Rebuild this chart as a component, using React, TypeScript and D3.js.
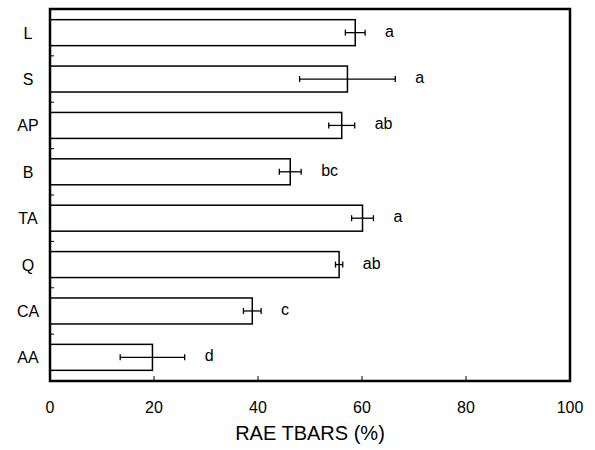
import React from "react";
import * as d3 from "d3";

const categories = ["L", "S", "AP", "B", "TA", "Q", "CA", "AA"];
const means = [58.7, 57.2, 56.1, 46.2, 60.1, 55.6, 38.9, 19.7];
const errors = [1.9, 9.2, 2.5, 2.1, 2.1, 0.7, 1.7, 6.2];
const groupLetters = ["a", "a", "ab", "bc", "a", "ab", "c", "d"];
const xTicks = [0, 20, 40, 60, 80, 100];
const xTitle = "RAE TBARS (%)";

const W = 595;
const H = 450;
const left = 50;
const right = 570;
const top = 9;
const bottom = 381;
const font = "'Liberation Sans', Arial, Helvetica, sans-serif";

export default function App() {
  const x = d3.scaleLinear().domain([0, 100]).range([left, right]);
  const y = d3
    .scaleBand<string>()
    .domain(categories)
    .range([top, bottom])
    .paddingInner(0.44)
    .paddingOuter(0.23);
  const bw = y.bandwidth();
  const step = y.step();

  return (
    <svg
      width={W}
      height={H}
      style={{ position: "absolute", left: 0, top: 0, background: "#fff" }}
      fontFamily={font}
    >
      <rect x={0} y={0} width={W} height={H} fill="#fff" />
      {/* bars */}
      {categories.map((c, i) => {
        const y0 = y(c)!;
        const cy = y0 + bw / 2;
        const lo = x(means[i] - errors[i]);
        const hi = x(means[i] + errors[i]);
        return (
          <g key={c}>
            <rect
              x={x(0)}
              y={y0}
              width={x(means[i]) - x(0)}
              height={bw}
              fill="#fff"
              stroke="#000"
              strokeWidth={1.5}
            />
            <line x1={lo} x2={hi} y1={cy} y2={cy} stroke="#000" strokeWidth={1.3} />
            <line x1={lo} x2={lo} y1={cy - 3} y2={cy + 3} stroke="#000" strokeWidth={1.3} />
            <line x1={hi} x2={hi} y1={cy - 3} y2={cy + 3} stroke="#000" strokeWidth={1.3} />
            <text x={hi + 20} y={cy + 4} fontSize={16} fill="#000">
              {groupLetters[i]}
            </text>
            <text x={28} y={cy + 6} fontSize={16} textAnchor="middle" fill="#000">
              {c}
            </text>
          </g>
        );
      })}
      {/* y minor ticks at band boundaries */}
      {categories.slice(0, -1).map((c, i) => {
        const yy = y(c)! + bw + (step - bw) / 2;
        return <line key={"yt" + i} x1={left} x2={left + 4} y1={yy} y2={yy} stroke="#000" strokeWidth={1} />;
      })}
      {/* x ticks */}
      {xTicks.map((t) => (
        <g key={"xt" + t}>
          <line x1={x(t)} x2={x(t)} y1={bottom} y2={bottom - 5} stroke="#000" strokeWidth={1} />
          <text x={x(t)} y={413} fontSize={16} textAnchor="middle" fill="#000">
            {t}
          </text>
        </g>
      ))}
      {/* frame */}
      <rect
        x={left}
        y={top}
        width={right - left}
        height={bottom - top}
        fill="none"
        stroke="#000"
        strokeWidth={2.5}
      />
      <text x={(left + right) / 2} y={440} fontSize={20} textAnchor="middle" fill="#000">
        {xTitle}
      </text>
    </svg>
  );
}
